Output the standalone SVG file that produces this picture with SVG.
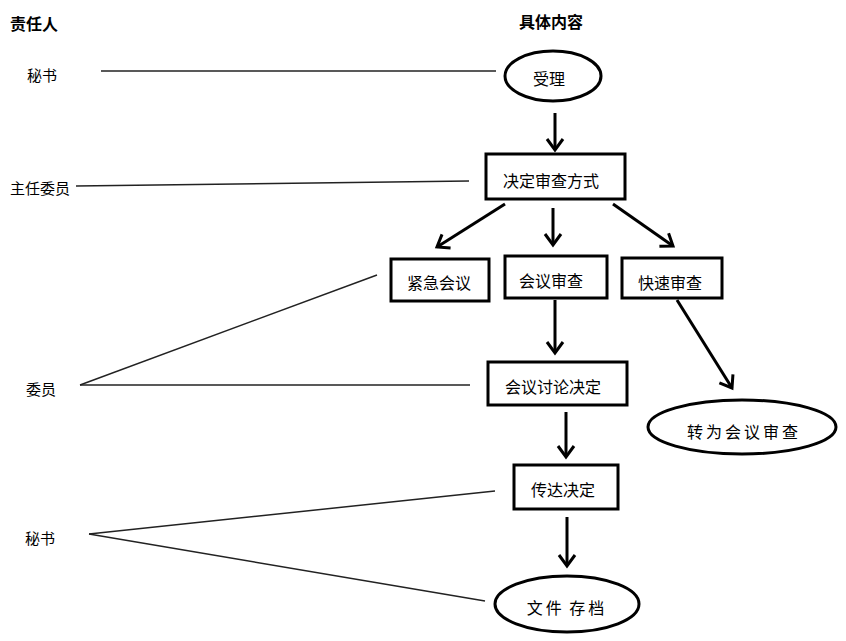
<svg xmlns="http://www.w3.org/2000/svg" width="846" height="641" viewBox="0 0 846 641">
<defs>
<marker id="arr" markerUnits="userSpaceOnUse" markerWidth="20" markerHeight="20" viewBox="0 0 20 20" refX="15" refY="10" orient="auto">
<path d="M4,2 L15,10 L4,18" fill="none" stroke="#000" stroke-width="3" stroke-linejoin="miter"/>
</marker>
<style>
text{font-family:"Noto Sans CJK SC","Liberation Sans",sans-serif;fill:#000}
.n{font-size:16px;text-anchor:middle;dominant-baseline:central}
.l{font-size:15px;dominant-baseline:central}
.h{font-size:16px;font-weight:bold;dominant-baseline:central}
.box{fill:#fff;stroke:#000;stroke-width:3}
.thin{stroke:#222;stroke-width:1.5;fill:none}
.arrow{stroke:#000;stroke-width:3;fill:none;marker-end:url(#arr)}
</style>
</defs>
<rect width="846" height="641" fill="#fff"/>
<g id="headers">
<text class="h" x="10" y="23">责任人</text>
<text class="h" x="519" y="21">具体内容</text>
</g>
<g id="roles">
<text class="l" x="27" y="74">秘书</text>
<text class="l" x="10" y="187">主任委员</text>
<text class="l" x="26" y="388">委员</text>
<text class="l" x="25" y="537">秘书</text>
</g>
<g id="connectors">
<line class="thin" x1="101" y1="71" x2="496" y2="71"/>
<line class="thin" x1="76" y1="186" x2="469" y2="181"/>
<line class="thin" x1="80" y1="385" x2="377" y2="275"/>
<line class="thin" x1="80" y1="385" x2="470" y2="385"/>
<line class="thin" x1="89" y1="534" x2="495" y2="491"/>
<line class="thin" x1="89" y1="534" x2="485" y2="601"/>
<line class="arrow" x1="555" y1="113" x2="555" y2="150"/>
<line class="arrow" x1="505" y1="204" x2="437" y2="247"/>
<line class="arrow" x1="553" y1="208" x2="553" y2="245"/>
<line class="arrow" x1="613" y1="204" x2="673" y2="246"/>
<line class="arrow" x1="555" y1="300" x2="555" y2="353"/>
<line class="arrow" x1="677" y1="300" x2="732" y2="388"/>
<line class="arrow" x1="566" y1="412" x2="566" y2="457"/>
<line class="arrow" x1="567" y1="517" x2="567" y2="566"/>
</g>
<g id="n1">
<ellipse class="box" cx="553" cy="76" rx="48" ry="25"/>
<text class="n" x="549" y="78">受理</text>
</g>
<g id="n2">
<rect class="box" x="486" y="154" width="139" height="45"/>
<text class="n" x="551" y="180">决定审查方式</text>
</g>
<g id="n3">
<rect class="box" x="391" y="259" width="98" height="42"/>
<text class="n" x="439" y="282">紧急会议</text>
</g>
<g id="n4">
<rect class="box" x="505" y="256" width="102" height="42"/>
<text class="n" x="551" y="280">会议审查</text>
</g>
<g id="n5">
<rect class="box" x="622" y="258" width="100" height="40"/>
<text class="n" x="670" y="282">快速审查</text>
</g>
<g id="n6">
<rect class="box" x="488" y="362" width="139" height="43"/>
<text class="n" x="553" y="386">会议讨论决定</text>
</g>
<g id="n7">
<ellipse class="box" cx="742" cy="427" rx="94" ry="27"/>
<text class="n" x="744" y="431" letter-spacing="3">转为会议审查</text>
</g>
<g id="n8">
<rect class="box" x="514" y="465" width="104" height="44"/>
<text class="n" x="563" y="489">传达决定</text>
</g>
<g id="n9">
<ellipse class="box" cx="567" cy="604" rx="72" ry="28"/>
<text class="n" x="567" y="607" letter-spacing="3" word-spacing="-2">文件 存档</text>
</g>
</svg>
